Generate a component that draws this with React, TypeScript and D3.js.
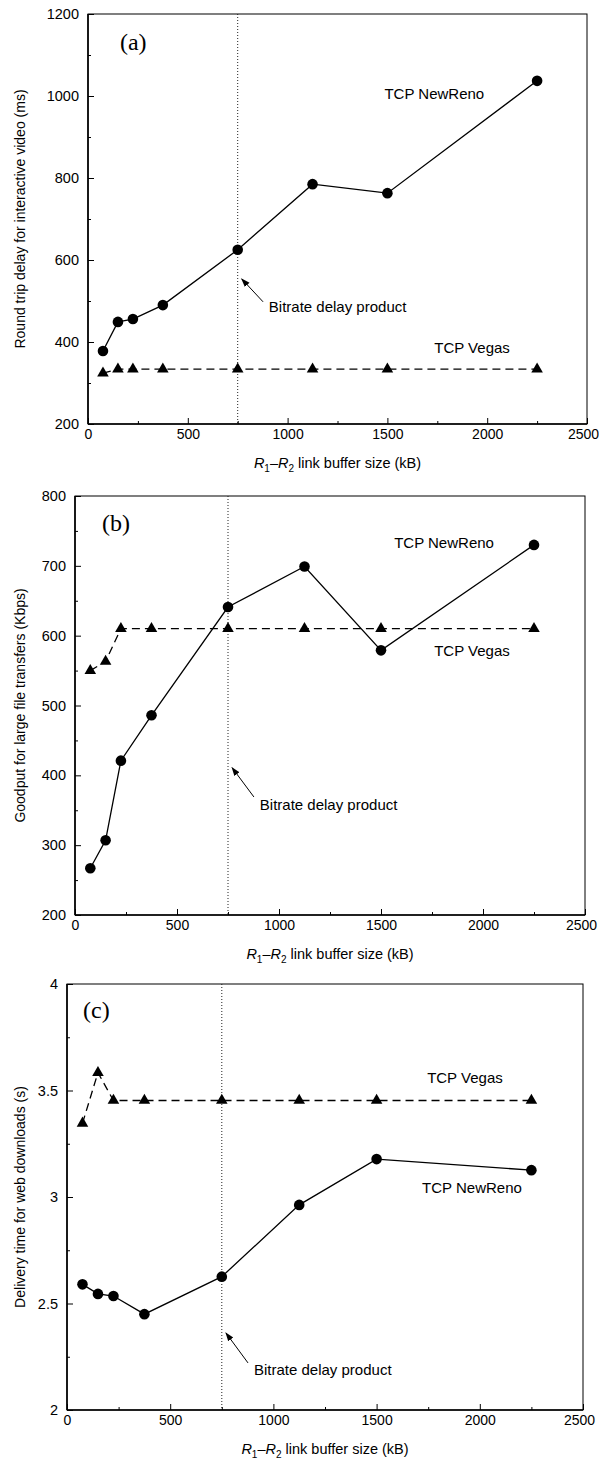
import React, { useEffect, useRef } from 'react';
import * as d3 from 'd3';

// buffer sizes (kB) used in all three experiments
const bufferSizes = [75, 150, 225, 375, 750, 1125, 1500, 2250];
const bitrateDelayProduct = 750;

// (a) round trip delay for interactive video (ms)
const rttNewReno = [378, 449, 456, 490, 625, 785, 763, 1037];
const rttVegas = [324, 334, 334, 334, 334, 334, 334, 334];

// (b) goodput for large file transfers (Kbps)
const goodputNewReno = [267, 307, 421, 486, 641, 699, 579, 730];
const goodputVegas = [550, 563, 610, 610, 610, 610, 610, 610];

// (c) delivery time for web downloads (s)
const deliveryNewReno = [2.59, 2.545, 2.535, 2.45, 2.626, 2.963, 3.178, 3.126];
const deliveryVegas = [3.346, 3.584, 3.453, 3.453, 3.453, 3.453, 3.453, 3.453];

const xMajorTicks = [0, 500, 1000, 1500, 2000, 2500];
const xMinorTicks = [250, 750, 1250, 1750, 2250];

const SANS = '"Liberation Sans", Arial, Helvetica, sans-serif';
const SERIF = '"Liberation Serif", "Times New Roman", serif';

// layout + annotation placement for each panel (data units for annotations)
const panels = [
  {
    tag: '(a)', tagAt: [160, 1112],
    box: { left: 88, right: 587, top: 14, bottom: 424 },
    yDomain: [200, 1200],
    yMajor: [200, 400, 600, 800, 1000, 1200],
    yMinor: [300, 500, 700, 900, 1100],
    yTitle: 'Round trip delay for interactive video (ms)',
    reno: rttNewReno, vegas: rttVegas,
    renoLabel: [1735, 993], vegasLabel: [1924, 373],
    arrow: { tip: [770, 554], tail: [877, 498], text: [906, 474] },
  },
  {
    tag: '(b)', tagAt: [132, 750],
    box: { left: 75, right: 585, top: 496, bottom: 915 },
    yDomain: [200, 800],
    yMajor: [200, 300, 400, 500, 600, 700, 800],
    yMinor: [250, 350, 450, 550, 650, 750],
    yTitle: 'Goodput for large file transfers (Kbps)',
    reno: goodputNewReno, vegas: goodputVegas,
    renoLabel: [1809, 726], vegasLabel: [1946, 571],
    arrow: { tip: [770, 411], tail: [877, 369], text: [906, 351] },
  },
  {
    tag: '(c)', tagAt: [78, 3.84],
    box: { left: 67, right: 583, top: 984, bottom: 1410 },
    yDomain: [2, 4],
    yMajor: [2, 2.5, 3, 3.5, 4],
    yMinor: [2.25, 2.75, 3.25, 3.75],
    yTitle: 'Delivery time for web downloads (s)',
    reno: deliveryNewReno, vegas: deliveryVegas,
    renoLabel: [1962, 3.019], vegasLabel: [1928, 3.535],
    arrow: { tip: [770, 2.362], tail: [877, 2.221], text: [906, 2.164] },
  },
];

const Panel = ({ p }) => {
  const xAxisRef = useRef(null);
  const yAxisRef = useRef(null);
  const { left, right, top, bottom } = p.box;

  const x = d3.scaleLinear().domain([0, 2500]).range([left, right]);
  const y = d3.scaleLinear().domain(p.yDomain).range([bottom, top]);

  useEffect(() => {
    const gx = d3.select(xAxisRef.current);
    gx.selectAll('*').remove();
    gx.append('g').call(d3.axisBottom(x).tickValues(xMajorTicks).tickSize(-6).tickPadding(5).tickFormat(d => String(d)))
      .call(g => g.select('.domain').remove())
      .call(g => g.selectAll('text').attr('font-family', SANS).attr('font-size', 14).attr('fill', '#000')
        .attr('dx', d => (d === 2500 ? -4 : 0)));
    gx.append('g').call(d3.axisBottom(x).tickValues(xMinorTicks).tickSize(-3).tickFormat(() => ''))
      .call(g => g.select('.domain').remove());

    const gy = d3.select(yAxisRef.current);
    gy.selectAll('*').remove();
    gy.append('g').call(d3.axisLeft(y).tickValues(p.yMajor).tickSize(-6).tickPadding(9).tickFormat(d => String(d)))
      .call(g => g.select('.domain').remove())
      .call(g => g.selectAll('text').attr('font-family', SANS).attr('font-size', 14.5).attr('fill', '#000'));
    gy.append('g').call(d3.axisLeft(y).tickValues(p.yMinor).tickSize(-3).tickFormat(() => ''))
      .call(g => g.select('.domain').remove());
  }, []);

  const line = d3.line().x((d, i) => x(bufferSizes[i])).y(d => y(d));
  const tri = d3.symbol(d3.symbolTriangle, 58)();
  const midY = (top + bottom) / 2;
  const midX = (left + right) / 2;

  return (
    <g>
      {/* frame */}
      <rect x={left} y={top} width={right - left} height={bottom - top} fill="none" stroke="#000" strokeWidth={1} />
      <line x1={left} x2={left} y1={top} y2={bottom} stroke="#000" strokeWidth={1.6} />
      <line x1={left} x2={right} y1={bottom} y2={bottom} stroke="#000" strokeWidth={1.6} />
      <g ref={xAxisRef} transform={`translate(0,${bottom})`} />
      <g ref={yAxisRef} transform={`translate(${left},0)`} />

      {/* bitrate delay product marker */}
      <line x1={x(bitrateDelayProduct)} x2={x(bitrateDelayProduct)} y1={top} y2={bottom}
        stroke="#222" strokeWidth={1} strokeDasharray="1,2" />

      {/* series */}
      <path d={line(p.vegas)} fill="none" stroke="#000" strokeWidth={1.3} strokeDasharray="8,5" />
      <path d={line(p.reno)} fill="none" stroke="#000" strokeWidth={1.3} />
      {p.vegas.map((v, i) => (
        <path key={'v' + i} d={tri} transform={`translate(${x(bufferSizes[i])},${y(v)})`} fill="#000" />
      ))}
      {p.reno.map((v, i) => (
        <circle key={'r' + i} cx={x(bufferSizes[i])} cy={y(v)} r={5.3} fill="#000" />
      ))}

      {/* annotations */}
      <text x={x(p.tagAt[0])} y={y(p.tagAt[1])} fontFamily={SERIF} fontSize={24}>{p.tag}</text>
      <text x={x(p.renoLabel[0])} y={y(p.renoLabel[1])} textAnchor="middle" fontFamily={SANS} fontSize={15}>TCP NewReno</text>
      <text x={x(p.vegasLabel[0])} y={y(p.vegasLabel[1])} textAnchor="middle" fontFamily={SANS} fontSize={15}>TCP Vegas</text>
      <line x1={x(p.arrow.tail[0])} y1={y(p.arrow.tail[1])} x2={x(p.arrow.tip[0])} y2={y(p.arrow.tip[1])}
        stroke="#000" strokeWidth={1} markerEnd="url(#arrowHead)" />
      <text x={x(p.arrow.text[0])} y={y(p.arrow.text[1])} fontFamily={SANS} fontSize={15}>Bitrate delay product</text>

      {/* axis titles */}
      <text transform={`translate(25,${midY}) rotate(-90)`} textAnchor="middle" fontFamily={SANS} fontSize={14}>{p.yTitle}</text>
      <text x={midX} y={bottom + 44} textAnchor="middle" fontFamily={SANS} fontSize={14.5}>
        <tspan fontStyle="italic">R</tspan><tspan fontSize={10} dy={4}>1</tspan>
        <tspan dy={-4}>–</tspan><tspan fontStyle="italic">R</tspan><tspan fontSize={10} dy={4}>2</tspan>
        <tspan dy={-4}> link buffer size (kB)</tspan>
      </text>
    </g>
  );
};

const App = () => {
  return (
    <div style={{ position: 'absolute', left: 0, top: 0, background: '#fff' }}>
      <svg width={599} height={1462} style={{ display: 'block' }}>
        <defs>
          <marker id="arrowHead" viewBox="0 0 10 10" refX={9} refY={5} markerWidth={9} markerHeight={9}
            orient="auto" markerUnits="userSpaceOnUse">
            <path d="M0,1.5 L10,5 L0,8.5 Z" fill="#000" />
          </marker>
        </defs>
        <rect width={599} height={1462} fill="#fff" />
        {panels.map((p, i) => <Panel key={i} p={p} />)}
      </svg>
    </div>
  );
};

export default App;
